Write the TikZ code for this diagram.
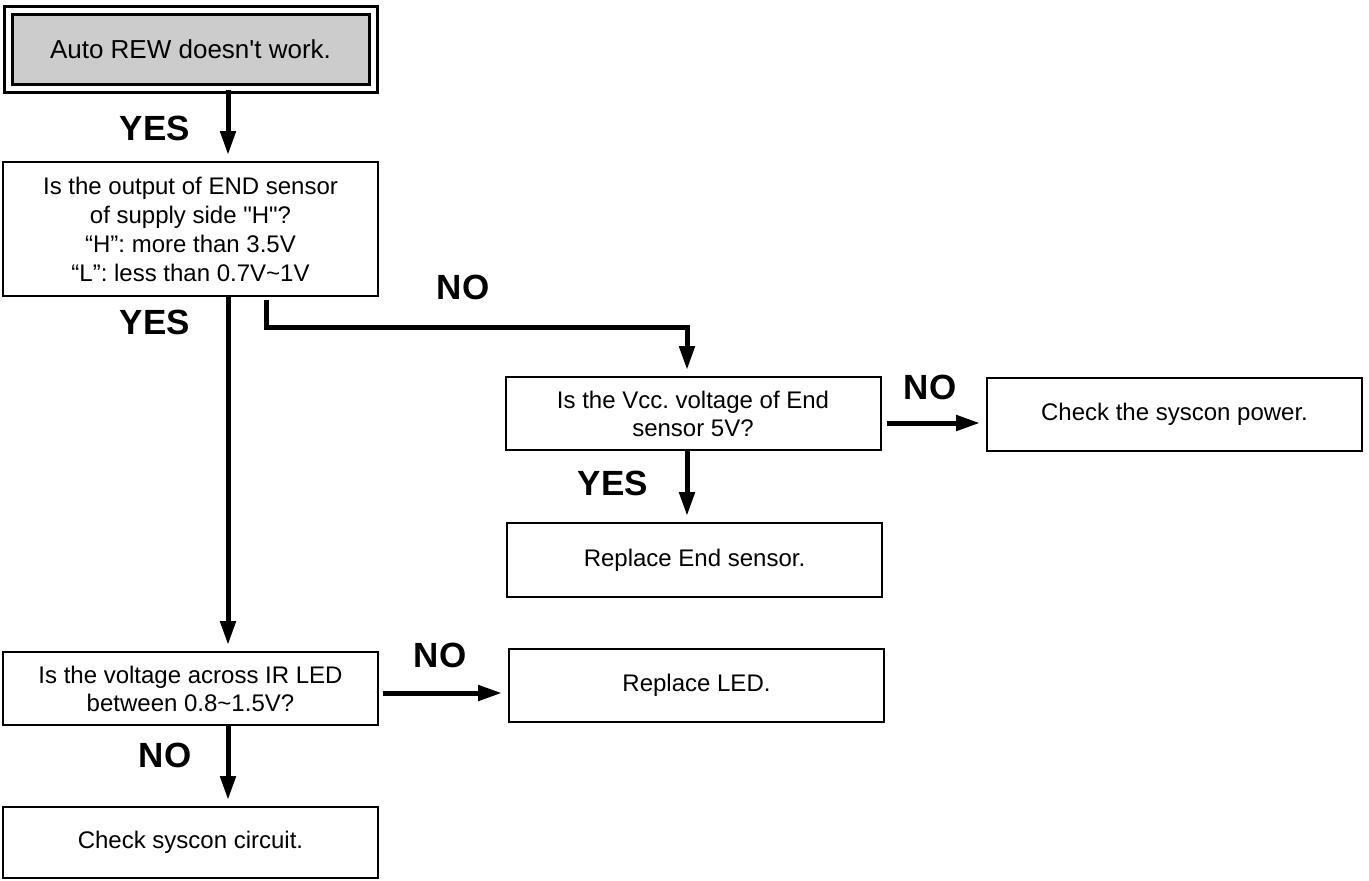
\documentclass[tikz,border=0pt]{standalone}
\usepackage{fontspec}
\setmainfont{Liberation Sans}
\usetikzlibrary{arrows.meta}
\frenchspacing

\begin{document}
\begin{tikzpicture}[x=0.5pt,y=-0.5pt,
  box/.style={draw, line width=1pt, minimum width=187.5pt, minimum height=36.5pt, inner sep=0pt, align=center, font=\fontsize{12}{14.5}\selectfont},
  lab/.style={font=\bfseries\fontsize{17.5}{20}\selectfont},
  arr/.style={-{Triangle[length=12pt,width=7.5pt]}, line width=2.5pt, shorten >=3pt}]
  \useasboundingbox (0,0) rectangle (1369,880);
  % columns and rows of the connectors
  \coordinate (colA) at (228,0); \coordinate (colN) at (266,0); \coordinate (colB) at (687,0);
  \coordinate (rowV) at (0,423); \coordinate (rowL) at (0,693); \coordinate (bend) at (687,327);
  % boxes
  \node[box, fill=gray!40, line width=1.5pt, double, double distance=2.5pt, minimum width=182.5pt, minimum height=39pt, font=\fontsize{13}{15}\selectfont] (start) at (190.5,49) {Auto REW doesn\textquotesingle t work.};
  \node[box, minimum height=67pt] (qEnd) at (190.5,229) {Is the output of END sensor\\of supply side \textquotedbl H\textquotedbl ?\\“H”: more than 3.5V\\“L”: less than 0.7V\textasciitilde1V};
  \node[box, font=\fontsize{12}{14}\selectfont] (qVcc) at (693,413.5) {Is the Vcc. voltage of End\\sensor 5V?};
  \node[box] (power) at (1174.5,414.5) {Check the syscon power.};
  \node[box, minimum height=37pt] (endsens) at (694.5,560) {Replace End sensor.};
  \node[box, font=\fontsize{12}{14}\selectfont] (qLed) at (190.5,688.5) {Is the voltage across IR LED\\between 0.8\textasciitilde1.5V?};
  \node[box] (led) at (696.5,685.5) {Replace LED.};
  \node[box, minimum height=35.5pt] (circuit) at (190.5,842.5) {Check syscon circuit.};
  % labels
  \node[lab] (yes1) at (155,128) {YES}; \node[lab] (yes2) at (155,322) {YES}; \node[lab] (no1) at (463,287) {NO};
  \node[lab] (no2) at (930,387) {NO}; \node[lab] (yes3) at (613,483) {YES};
  \node[lab] (no3) at (440,655) {NO}; \node[lab] (no4) at (165,755) {NO};
  % connectors
  \draw[arr] (start.south -| colA) -- (qEnd.north -| colA);
  \draw[arr] (qEnd.south -| colA) -- (qLed.north -| colA);
  \draw[arr] ([yshift=-1.5pt]qEnd.south -| colN) |- (bend) -- (qVcc.north -| bend);
  \draw[arr, shorten <=2.5pt] (qVcc.east |- rowV) -- (power.west |- rowV);
  \draw[arr] (qVcc.south -| colB) -- (endsens.north -| colB);
  \draw[arr, shorten <=2pt] (qLed.east |- rowL) -- (led.west |- rowL);
  \draw[arr] (qLed.south -| colA) -- (circuit.north -| colA);
\end{tikzpicture}
\end{document}
